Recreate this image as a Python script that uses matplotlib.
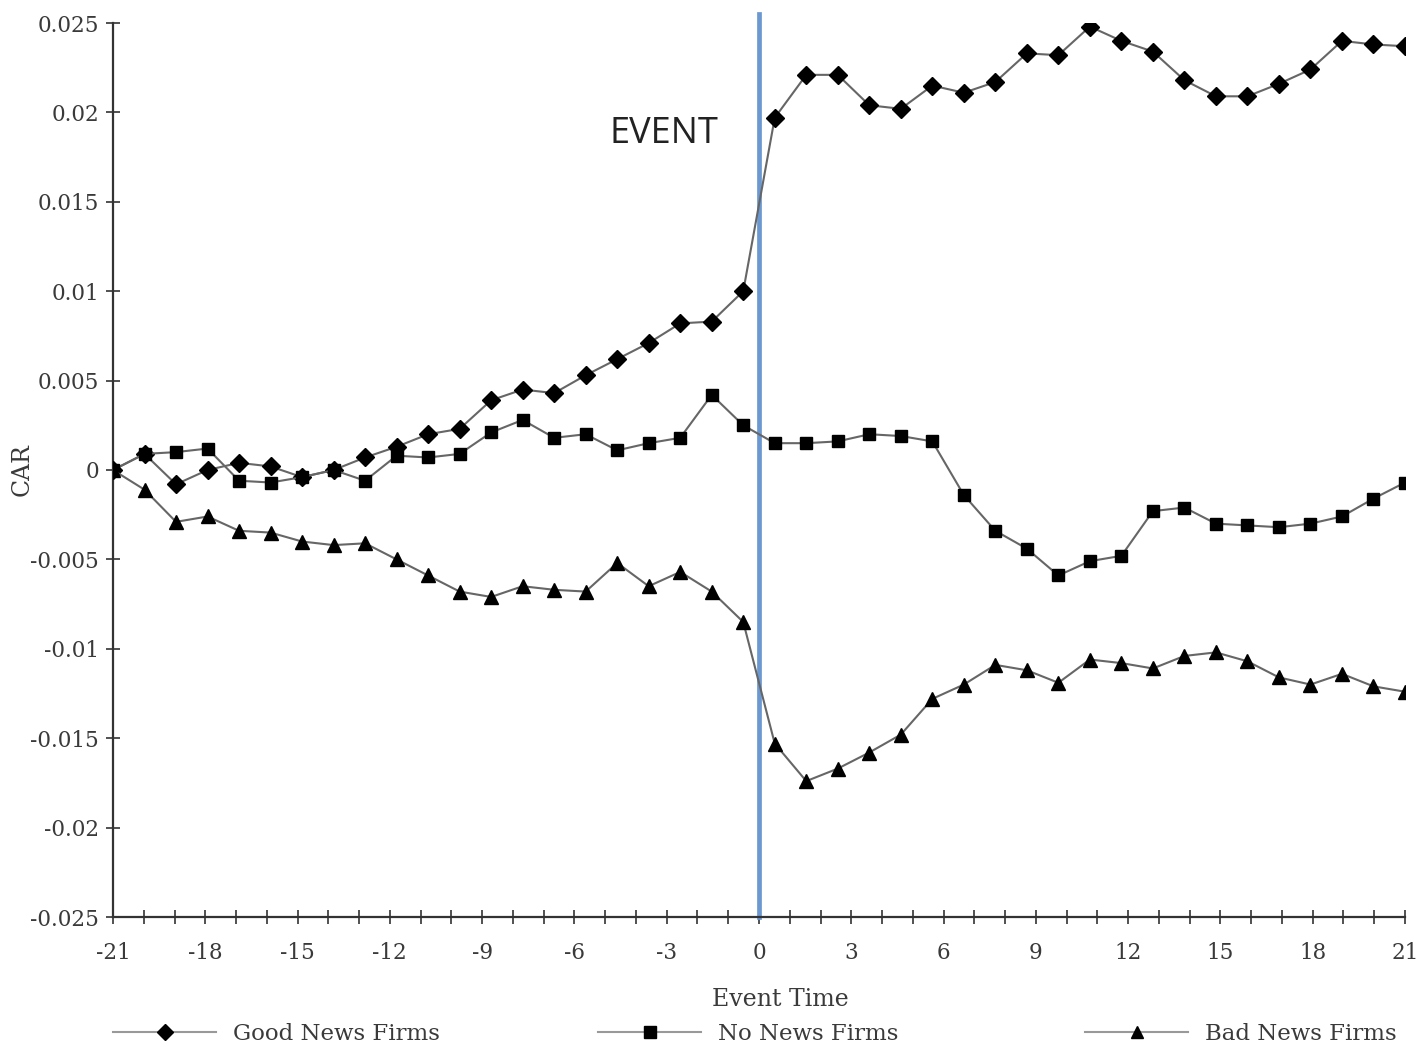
import numpy as np
import matplotlib.pyplot as plt
from matplotlib.ticker import FixedLocator, MultipleLocator

# --- data (CAR by event day) ---
event_days = list(range(-21, 21))
good_news = [0.0, 0.0009, -0.0008, 0.0, 0.0004, 0.0002, -0.0004, 0.0, 0.0007, 0.0013,
             0.0020, 0.0023, 0.0039, 0.0045, 0.0043, 0.0053, 0.0062, 0.0071, 0.0082, 0.0083,
             0.0100, 0.0197, 0.0221, 0.0221, 0.0204, 0.0202, 0.0215, 0.0211, 0.0217, 0.0233,
             0.0232, 0.0248, 0.0240, 0.0234, 0.0218, 0.0209, 0.0209, 0.0216, 0.0224, 0.0240,
             0.0238, 0.0237]
no_news = [0.0, 0.0009, 0.0010, 0.0012, -0.0006, -0.0007, -0.0004, 0.0, -0.0006, 0.0008,
           0.0007, 0.0009, 0.0021, 0.0028, 0.0018, 0.0020, 0.0011, 0.0015, 0.0018, 0.0042,
           0.0025, 0.0015, 0.0015, 0.0016, 0.0020, 0.0019, 0.0016, -0.0014, -0.0034, -0.0044,
           -0.0059, -0.0051, -0.0048, -0.0023, -0.0021, -0.0030, -0.0031, -0.0032, -0.0030, -0.0026,
           -0.0016, -0.0007]
bad_news = [0.0, -0.0011, -0.0029, -0.0026, -0.0034, -0.0035, -0.0040, -0.0042, -0.0041, -0.0050,
            -0.0059, -0.0068, -0.0071, -0.0065, -0.0067, -0.0068, -0.0052, -0.0065, -0.0057, -0.0068,
            -0.0085, -0.0153, -0.0174, -0.0167, -0.0158, -0.0148, -0.0128, -0.0120, -0.0109, -0.0112,
            -0.0119, -0.0106, -0.0108, -0.0111, -0.0104, -0.0102, -0.0107, -0.0116, -0.0120, -0.0114,
            -0.0121, -0.0124]
series_names = ["Good News Firms", "No News Firms", "Bad News Firms"]
x_ticks = list(range(-21, 22, 3))
y_ticks = [-0.025, -0.02, -0.015, -0.01, -0.005, 0, 0.005, 0.01, 0.015, 0.02, 0.025]

plt.rcParams['font.family'] = ['DejaVu Serif']
plt.rcParams['axes.unicode_minus'] = False
text_col = "#3a3a3a"
W, H = 1419, 1047

fig = plt.figure(figsize=(W / 100, H / 100), dpi=100)
ax = fig.add_axes([113 / W, 1 - 917 / H, 1292 / W, 894 / H])

# the original chart spreads the 42 observations evenly across the -21..21 axis
pos = np.linspace(-21, 21, len(event_days))

markers = ["D", "s", "^"]
sizes = [9, 9, 9.5]
handles = []
for vals, mk, ms, name in zip([good_news, no_news, bad_news], markers, sizes, series_names):
    h, = ax.plot(pos, vals, color="#666666", lw=1.5, marker=mk, ms=ms,
                 mfc="black", mec="black", label=name, zorder=3)
    handles.append(h)

# event line
ax.axvline(0, ymin=0, ymax=1.01, color="#6b98d0", lw=3.4, clip_on=False, zorder=2)
ax.text(-3.1, 0.0188, "EVENT", family="Open Sans", fontsize=26, color="#222222",
        ha="center", va="center")

ax.set_xlim(-21, 21)
ax.set_ylim(-0.025, 0.025)
ax.xaxis.set_major_locator(FixedLocator(x_ticks))
ax.xaxis.set_minor_locator(MultipleLocator(1))
ax.set_xticklabels([str(t) for t in x_ticks])
ax.yaxis.set_major_locator(FixedLocator(y_ticks))
ax.set_yticklabels(["%g" % t for t in y_ticks])

for s in ["top", "right"]:
    ax.spines[s].set_visible(False)
for s in ["left", "bottom"]:
    ax.spines[s].set_color("#333333")
    ax.spines[s].set_linewidth(1.6)

ax.tick_params(axis="both", which="both", direction="inout", length=10, width=1.2,
               color="#333333", labelsize=15.5, labelcolor=text_col)
ax.tick_params(axis="x", pad=13)
ax.tick_params(axis="y", pad=5)

fig.text(22 / W, 1 - 470 / H, "CAR", rotation=90, ha="center", va="center",
         fontsize=17, color=text_col)
fig.text(780 / W, 1 - 1000 / H, "Event Time", ha="center", va="center",
         fontsize=17, color=text_col)

# legend: one entry per slot along the bottom
leg_x = [113, 598, 1085]
for h, name, x0 in zip(handles, series_names, leg_x):
    lh = plt.Line2D([], [], color="#999999", lw=1.5, marker=h.get_marker(),
                    ms=h.get_markersize() * 0.9, mfc="black", mec="black")
    fig.legend(handles=[lh], labels=[name], loc="center left",
               bbox_to_anchor=(x0 / W, 1 - 1034 / H), frameon=False,
               handlelength=4.5, handletextpad=0.75, numpoints=1, fontsize=16.5,
               labelcolor=text_col, borderpad=0.0, borderaxespad=0.0)

fig.savefig("out.png", dpi=100, facecolor="white")
